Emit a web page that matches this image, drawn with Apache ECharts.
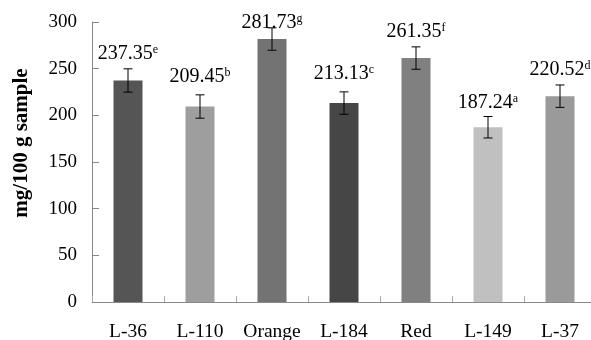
<!DOCTYPE html>
<html>
<head>
<meta charset="utf-8">
<script src="https://cdn.jsdelivr.net/npm/echarts@6/dist/echarts.min.js"></script>
<style>html,body{margin:0;padding:0;background:#fff}#c{width:591px;height:340px}</style>
</head>
<body>
<div id="c"></div>
<script>
var categories = ['L-36', 'L-110', 'Orange', 'L-184', 'Red', 'L-149', 'L-37'];
var values = [237.35, 209.45, 281.73, 213.13, 261.35, 187.24, 220.52];
var letters = ['e', 'b', 'g', 'c', 'f', 'a', 'd'];
var errors = [12.5, 12.5, 12, 12, 12, 11.5, 12];
var barColors = ['#555555', '#9e9e9e', '#737373', '#464646', '#808080', '#c0c0c0', '#9a9a9a'];
var labelGaps = [16.5, 20, 6, 19, 16, 14, 16];
var yTicks = [0, 50, 100, 150, 200, 250, 300];

var serif = '"Liberation Serif", "Times New Roman", serif';

var barData = values.map(function (v, i) {
  return {
    value: v,
    itemStyle: { color: barColors[i] },
    label: {
      show: true,
      position: 'top',
      distance: labelGaps[i],
      formatter: '{v|' + v.toFixed(2) + '}{s|' + letters[i] + '}',
      rich: {
        v: { fontFamily: serif, fontSize: 20, color: '#000', lineHeight: 20 },
        s: { fontFamily: serif, fontSize: 12, color: '#000', lineHeight: 20, verticalAlign: 'top' }
      }
    }
  };
});

var errData = values.map(function (v, i) { return [i, v - errors[i], v + errors[i]]; });

var chart = echarts.init(document.getElementById('c'), null, { renderer: 'canvas' });
chart.setOption({
  animation: false,
  backgroundColor: '#fff',
  grid: { left: 92, top: 22, width: 504, height: 280, containLabel: false, outerBoundsMode: 'none' },
  xAxis: {
    type: 'category',
    data: categories,
    axisLine: { lineStyle: { color: '#888', width: 1 } },
    axisTick: { show: true, inside: true, length: 6, lineStyle: { color: '#aaa' } },
    axisLabel: { fontFamily: serif, fontSize: 19.5, color: '#000', margin: 20, interval: 0, hideOverlap: false }
  },
  yAxis: {
    type: 'value',
    min: 0, max: 300, interval: 50,
    name: 'mg/100 g sample',
    nameLocation: 'middle',
    nameGap: 60,
    nameTextStyle: { fontFamily: serif, fontSize: 21, fontWeight: 'bold', color: '#000', padding: [0, 0, 0, 38] },
    splitLine: { show: false },
    axisLine: { show: true, lineStyle: { color: '#888', width: 1 } },
    axisTick: { show: true, inside: true, length: 7, lineStyle: { color: '#888' } },
    axisLabel: { fontFamily: serif, fontSize: 19, color: '#000', margin: 15,
      formatter: function (v) { return yTicks.indexOf(v) >= 0 ? String(v) : ''; } }
  },
  series: [
    {
      type: 'bar',
      data: barData,
      barWidth: 29
    },
    {
      type: 'custom',
      data: errData,
      z: 10,
      renderItem: function (params, api) {
        var x = api.value(0);
        var lo = api.coord([x, api.value(1)]);
        var hi = api.coord([x, api.value(2)]);
        var w = 4.5;
        var st = { stroke: '#000', lineWidth: 1 };
        return {
          type: 'group',
          children: [
            { type: 'line', shape: { x1: lo[0], y1: lo[1], x2: hi[0], y2: hi[1] }, style: st },
            { type: 'line', shape: { x1: lo[0] - w, y1: lo[1], x2: lo[0] + w, y2: lo[1] }, style: st },
            { type: 'line', shape: { x1: hi[0] - w, y1: hi[1], x2: hi[0] + w, y2: hi[1] }, style: st }
          ]
        };
      }
    }
  ]
});
</script>
</body>
</html>
